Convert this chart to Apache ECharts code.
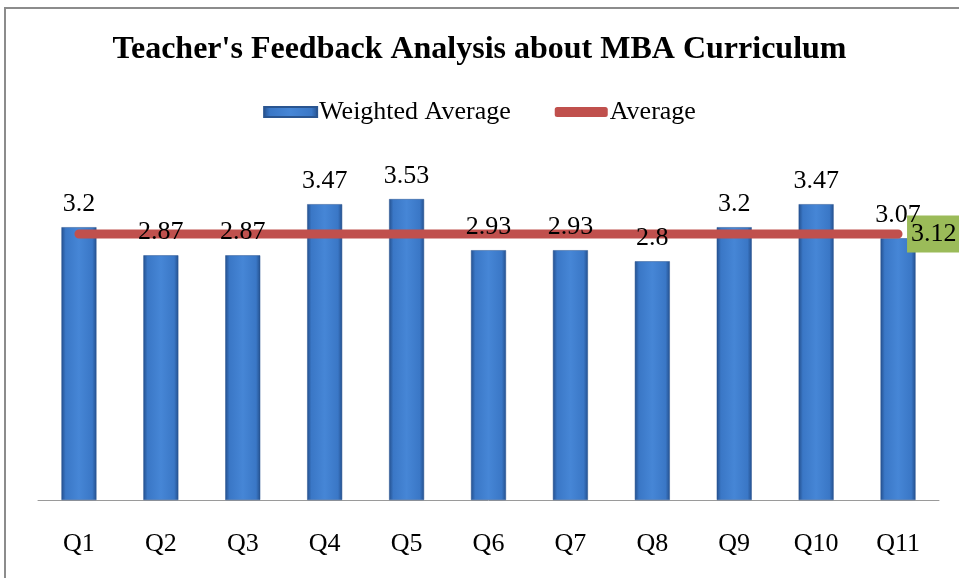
<!DOCTYPE html>
<html>
<head>
<meta charset="utf-8">
<script src="https://cdn.jsdelivr.net/npm/echarts@6/dist/echarts.min.js"></script>
<style>
  html, body { margin: 0; padding: 0; background: #fff; }
  #chart { width: 959px; height: 578px; }
</style>
</head>
<body>
<div id="chart"></div>
<script>
// data
var questions = ['Q1', 'Q2', 'Q3', 'Q4', 'Q5', 'Q6', 'Q7', 'Q8', 'Q9', 'Q10', 'Q11'];
var weightedAvg = [3.2, 2.87, 2.87, 3.47, 3.53, 2.93, 2.93, 2.8, 3.2, 3.47, 3.07];
var averageLine = [3.12, 3.12, 3.12, 3.12, 3.12, 3.12, 3.12, 3.12, 3.12, 3.12, 3.12];

var serif = '"Liberation Serif", "DejaVu Serif", serif';

var chart = echarts.init(document.getElementById('chart'));

var option = {
  animation: false,
  textStyle: { fontFamily: serif },
  graphic: [{
    type: 'rect',
    shape: { x: 5, y: 8, width: 1000, height: 620 },
    style: { fill: 'none', stroke: '#8c8c8c', lineWidth: 2 },
    silent: true
  }],
  title: {
    text: "Teacher's Feedback Analysis about MBA Curriculum",
    left: 'center',
    top: 29,
    textStyle: { fontFamily: serif, fontSize: 32, fontWeight: 'bold', color: '#000' }
  },
  legend: {
    top: 94,
    left: 'center',
    itemWidth: 53,
    itemHeight: 10,
    itemGap: 44,
    textStyle: { fontFamily: serif, fontSize: 26, color: '#000', padding: [0, 0, 0, -3] },
    data: [
      { name: 'Weighted Average', icon: 'rect' },
      { name: 'Average', icon: 'roundRect', itemStyle: { color: '#C0504D' } }
    ]
  },
  grid: { left: 38, right: 20, top: 159, bottom: 78 },
  xAxis: {
    type: 'category',
    data: questions,
    axisLine: { lineStyle: { color: '#9a9a9a', width: 1 } },
    axisTick: { show: false },
    axisLabel: { color: '#000', fontSize: 26, fontFamily: serif, margin: 31 }
  },
  yAxis: {
    type: 'value',
    min: 0,
    max: 4,
    show: false,
    splitLine: { show: false }
  },
  series: [
    {
      name: 'Weighted Average',
      type: 'bar',
      barWidth: 35,
      data: weightedAvg,
      z: 2,
      itemStyle: {
        color: new echarts.graphic.LinearGradient(0, 0, 1, 0, [
          { offset: 0, color: '#24508e' },
          { offset: 0.12, color: '#3a77c6' },
          { offset: 0.5, color: '#4686d6' },
          { offset: 0.88, color: '#3a77c6' },
          { offset: 1, color: '#24508e' }
        ]),
        borderColor: '#2a5590',
        borderWidth: 0.5
      }
    },
    {
      name: 'Average',
      type: 'line',
      data: averageLine,
      symbol: 'none',
      color: '#C0504D',
      lineStyle: { color: '#C0504D', width: 9, cap: 'round' },
      z: 3,
      endLabel: {
        show: true,
        distance: 9,
        color: '#000',
        fontSize: 26,
        fontFamily: serif,
        backgroundColor: '#9BBB59',
        padding: [6, 12, 5, 4]
      }
    },
    {
      // transparent twin of the bars so the value labels sit above the red line
      name: 'labels',
      type: 'bar',
      barWidth: 35,
      barGap: '-100%',
      data: weightedAvg,
      z: 4,
      silent: true,
      itemStyle: { color: 'rgba(0,0,0,0)' },
      label: {
        show: true,
        position: 'top',
        distance: 10,
        color: '#000',
        fontSize: 26,
        fontFamily: serif
      }
    }
  ]
};

chart.setOption(option);
</script>
</body>
</html>
